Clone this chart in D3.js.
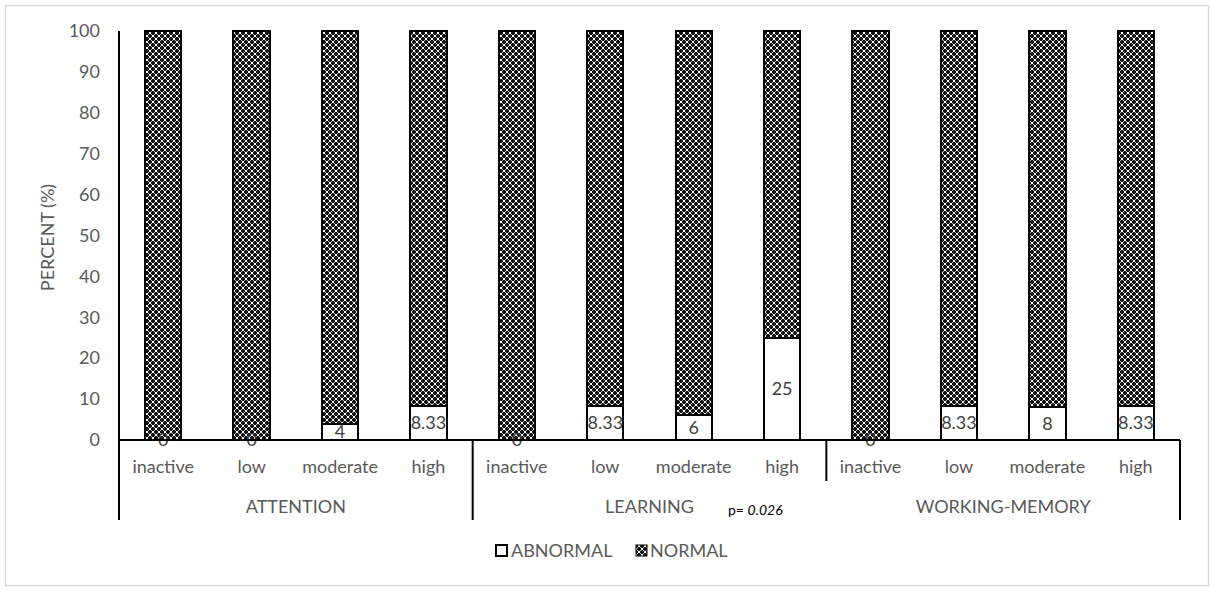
<!DOCTYPE html>
<html><head><meta charset="utf-8">
<script src="https://cdn.jsdelivr.net/npm/d3@7"></script>
<style>body{margin:0;background:#fff;} text{font-family:Lato,"Open Sans",sans-serif;}</style>
</head><body>
<svg id="c" width="1214" height="595"></svg>
<script>
const groups = ["ATTENTION", "LEARNING", "WORKING-MEMORY"];
const levels = ["inactive", "low", "moderate", "high"];
const abnormal = [0, 0, 4, 8.33, 0, 8.33, 6, 25, 0, 8.33, 8, 8.33];
const normal = [100, 100, 96, 91.67, 100, 91.67, 94, 75, 100, 91.67, 92, 91.67];
const yTicks = [0,10,20,30,40,50,60,70,80,90,100];
const seriesNames = ["ABNORMAL", "NORMAL"];

const svg = d3.select("#c");
const grey = "#595959";
const fs = 18;
svg.append("rect").attr("x",5.5).attr("y",5.5).attr("width",1203).attr("height",580)
  .attr("fill","#fff").attr("stroke","#d9d9d9").attr("stroke-width",1.5);

const defs = svg.append("defs");
const pat = defs.append("pattern").attr("id","pn").attr("patternUnits","userSpaceOnUse")
  .attr("width",6).attr("height",6);
pat.append("rect").attr("width",6).attr("height",6).attr("fill","#111");
[[2,0],[3,0],[0,2],[0,3],[5,2],[5,3],[2,5],[3,5],[1,1],[4,1],[1,4],[4,4]].forEach(([a,b])=>{
  pat.append("rect").attr("x",a).attr("y",b).attr("width",1).attr("height",1)
    .attr("fill", (a===1||a===4)&&(b===1||b===4) ? "#bbb" : "#fff");
});

const pLeft = 119, pRight = 1180, pTop = 31, pBottom = 440;
const cats = d3.range(12);
const x = d3.scaleBand().domain(cats).range([pLeft,pRight]).paddingInner(0.59).paddingOuter(0.295);
const y = d3.scaleLinear().domain([0,100]).range([pBottom,pTop]);

// y axis labels
const yAxis = d3.axisLeft(y).tickValues(yTicks).tickSize(0).tickPadding(19);
const ya = svg.append("g").attr("transform",`translate(${pLeft},0)`).call(yAxis);
ya.select(".domain").remove();
ya.selectAll("text").attr("fill",grey).attr("font-size",fs);
svg.append("line").attr("x1",pLeft).attr("x2",pLeft).attr("y1",pTop).attr("y2",pBottom).attr("stroke","#000").attr("stroke-width",2);

svg.append("text").attr("transform",`translate(54,${(pTop+pBottom)/2+2}) rotate(-90)`)
  .attr("text-anchor","middle").attr("fill",grey).attr("font-size",fs).text("PERCENT (%)");

// bars
const bars = svg.append("g");
cats.forEach(i=>{
  bars.append("rect").attr("x",x(i)).attr("width",x.bandwidth())
    .attr("y",y(abnormal[i]+normal[i])).attr("height",y(abnormal[i])-y(abnormal[i]+normal[i]))
    .attr("fill","url(#pn)").attr("stroke","#000").attr("stroke-width",2).attr("shape-rendering","crispEdges");
  if (abnormal[i]>0) {
    bars.append("rect").attr("x",x(i)).attr("width",x.bandwidth())
      .attr("y",y(abnormal[i])).attr("height",y(0)-y(abnormal[i]))
      .attr("fill","#fff").attr("stroke","#000").attr("stroke-width",2).attr("shape-rendering","crispEdges");
  }
});
cats.forEach(i=>{
  svg.append("text").attr("x",x(i)+x.bandwidth()/2).attr("y",(y(0)+y(abnormal[i]))/2)
    .attr("dy","0.35em").attr("text-anchor","middle").attr("fill","#404040").attr("font-size",fs)
    .text(abnormal[i]);
});

// x axis
svg.append("line").attr("x1",pLeft).attr("x2",pRight).attr("y1",pBottom).attr("y2",pBottom).attr("stroke","#000").attr("stroke-width",2);
cats.forEach(i=>{
  svg.append("text").attr("x",x(i)+x.bandwidth()/2).attr("y",467).attr("dy","0.35em")
    .attr("text-anchor","middle").attr("fill",grey).attr("font-size",fs).text(levels[i%4]);
});
const gw = (pRight-pLeft)/3;
groups.forEach((g,k)=>{
  svg.append("text").attr("x",pLeft+gw*(k+0.5)).attr("y",507).attr("dy","0.35em")
    .attr("text-anchor","middle").attr("fill",grey).attr("font-size",fs).text(g);
});
[[pLeft,520],[pLeft+gw,520],[pLeft+2*gw,481],[pRight,520]].forEach(([xx,yy])=>{
  svg.append("line").attr("x1",xx).attr("x2",xx).attr("y1",pBottom).attr("y2",yy).attr("stroke","#000").attr("stroke-width",2);
});

const pt = svg.append("text").attr("x",728).attr("y",510).attr("dy","0.35em").attr("fill","#000").attr("font-size",14);
pt.append("tspan").text("p= ");
pt.append("tspan").attr("font-style","italic").text("0.026");

// legend
const lg = svg.append("g");
lg.append("rect").attr("x",496).attr("y",545).attr("width",11).attr("height",11).attr("fill","#fff").attr("stroke","#000").attr("stroke-width",2);
lg.append("text").attr("x",511).attr("y",551).attr("dy","0.35em").attr("fill",grey).attr("font-size",fs).text(seriesNames[0]);
lg.append("rect").attr("x",636).attr("y",545).attr("width",11).attr("height",11).attr("fill","url(#pn)").attr("stroke","#000").attr("stroke-width",1);
lg.append("text").attr("x",650).attr("y",551).attr("dy","0.35em").attr("fill",grey).attr("font-size",fs).text(seriesNames[1]);
</script>
</body></html>
